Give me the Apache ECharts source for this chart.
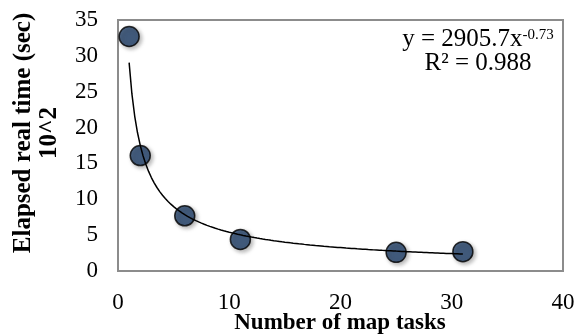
<!DOCTYPE html>
<html><head><meta charset="utf-8">
<script src="https://cdn.jsdelivr.net/npm/echarts@6/dist/echarts.min.js"></script>
<style>html,body{margin:0;padding:0;background:#fff}#c{width:582px;height:336px}</style>
</head><body><div id="c"></div>
<script>
var mapTasks = [1, 2, 6, 11, 25, 31];
var elapsed = [32.7, 16.1, 7.7, 4.4, 2.6, 2.7];
var xTicks = [0, 10, 20, 30, 40];
var yTicks = [0, 5, 10, 15, 20, 25, 30, 35];
var xTitle = 'Number of map tasks';
var yTitle = 'Elapsed real time (sec)\n10^2';
// power trendline as printed on the chart: y = 2905.7 x^-0.73 (seconds), axis is in units of 10^2
var trendCoef = 2905.7, trendExp = -0.73, trendScale = 100;
var trend = [];
for (var i = 0; i <= 120; i++) {
  var x = 1 + (31 - 1) * i / 120;
  trend.push([x, trendCoef * Math.pow(x, trendExp) / trendScale]);
}
var font = '"Liberation Serif", "Times New Roman", serif';
var chart = echarts.init(document.getElementById('c'), null, {renderer: 'canvas'});
chart.setOption({
  animation: false,
  grid: {left: 118, right: 19, top: 20, bottom: 65, show: true, borderColor: '#8c8c8c', borderWidth: 2, backgroundColor: 'transparent'},
  xAxis: {type: 'value', min: 0, max: 40, interval: 10,
    axisLine: {show: false}, axisTick: {show: false}, splitLine: {show: false},
    axisLabel: {margin: 20, fontFamily: font, fontSize: 23, color: '#000'}},
  yAxis: {type: 'value', min: 0, max: 35, interval: 5,
    axisLine: {show: false}, axisTick: {show: false}, splitLine: {show: false},
    axisLabel: {margin: 20, fontFamily: font, fontSize: 23, color: '#000'}},
  graphic: [
    {type: 'text', x: 37, y: 133, rotation: Math.PI / 2,
      style: {text: yTitle, fontFamily: font, fontSize: 25, fontWeight: 'bold',
        fill: '#000', align: 'center', verticalAlign: 'middle', lineHeight: 26}},
    {type: 'text', x: 340, y: 323,
      style: {text: xTitle, fontFamily: font, fontSize: 23, fontWeight: 'bold',
        fill: '#000', align: 'center', verticalAlign: 'middle'}},
    {type: 'text', x: 478, y: 52,
      style: {text: '{a|y = 2905.7x}{s|-0.73}\n{a|R² = 0.988}', align: 'center', verticalAlign: 'middle',
        rich: {a: {fontFamily: font, fontSize: 25, fill: '#000', lineHeight: 24, verticalAlign: 'bottom'},
               s: {fontFamily: font, fontSize: 15, fill: '#000', lineHeight: 24, verticalAlign: 'top'}}}}
  ],
  series: [
    {type: 'line', data: trend, showSymbol: false, smooth: false,
      lineStyle: {color: '#000', width: 1.5}, z: 3},
    {type: 'scatter', data: mapTasks.map(function (x, i) { return [x, elapsed[i]]; }),
      symbolSize: 20,
      itemStyle: {color: '#22416a', borderColor: '#000', borderWidth: 1.5,
        shadowBlur: 4, shadowColor: 'rgba(0,0,0,0.35)', shadowOffsetX: 2, shadowOffsetY: 2}, z: 2}
  ]
});
</script></body></html>
